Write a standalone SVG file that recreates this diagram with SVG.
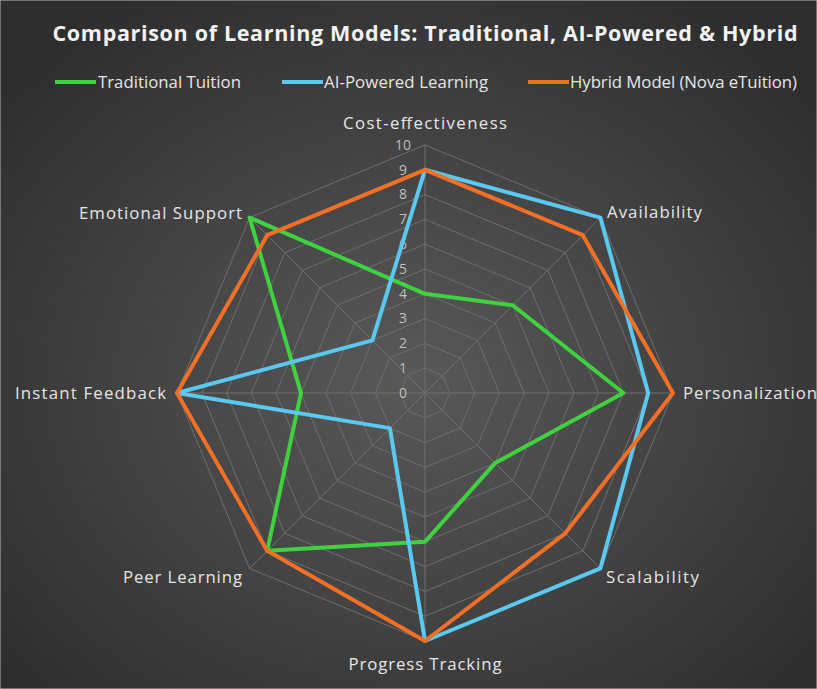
<svg xmlns="http://www.w3.org/2000/svg" width="817" height="689" viewBox="0 0 817 689">
<defs>
<radialGradient id="bg" cx="50%" cy="55%" r="65%"><stop offset="0" stop-color="#595959"/><stop offset="1" stop-color="#2e2e2e"/></radialGradient>
<style>
.t{font-family:"Open Sans","Liberation Sans",sans-serif;fill:#e6e6e6;font-size:16.8px}
.n{font-family:"Open Sans","Liberation Sans",sans-serif;fill:#bfbfbf;font-size:14px;text-anchor:middle}
.g{fill:none;stroke:#6e6e6e;stroke-width:1}
.s{fill:none;stroke-width:4;stroke-linejoin:round}
</style>
</defs>
<rect width="817" height="689" fill="url(#bg)" stroke="#bbb"/>
<text x="425" y="41" text-anchor="middle" textLength="745" style="font-family:'Open Sans','Liberation Sans',sans-serif;font-weight:bold;font-size:21.5px;fill:#f2f2f2">Comparison of Learning Models: Traditional,  AI-Powered &amp; Hybrid</text>
<g id="legend">
<line x1="55" y1="82" x2="96" y2="82" stroke="#3fd13f" stroke-width="4"/><text class="t" x="98" y="88" textLength="143">Traditional Tuition</text>
<line x1="282" y1="82" x2="323" y2="82" stroke="#5bc8f0" stroke-width="4"/><text class="t" x="324" y="88" textLength="164">AI-Powered Learning</text>
<line x1="528" y1="82" x2="569" y2="82" stroke="#f07027" stroke-width="4"/><text class="t" x="570" y="88" textLength="227">Hybrid Model (Nova eTuition)</text>
</g>
<g id="grid">
<polygon class="g" points="425,368.2 442.5,375.5 449.8,393 442.5,410.5 425,417.8 407.5,410.5 400.2,393 407.5,375.5"/>
<polygon class="g" points="425,343.4 460.1,357.9 474.6,393 460.1,428.1 425,442.6 389.9,428.1 375.4,393 389.9,357.9"/>
<polygon class="g" points="425,318.6 477.6,340.4 499.4,393 477.6,445.6 425,467.4 372.4,445.6 350.6,393 372.4,340.4"/>
<polygon class="g" points="425,293.8 495.1,322.9 524.2,393 495.1,463.1 425,492.2 354.9,463.1 325.8,393 354.9,322.9"/>
<polygon class="g" points="425,269 512.7,305.3 549,393 512.7,480.7 425,517 337.3,480.7 301,393 337.3,305.3"/>
<polygon class="g" points="425,244.2 530.2,287.8 573.8,393 530.2,498.2 425,541.8 319.8,498.2 276.2,393 319.8,287.8"/>
<polygon class="g" points="425,219.4 547.8,270.2 598.6,393 547.8,515.8 425,566.6 302.2,515.8 251.4,393 302.2,270.2"/>
<polygon class="g" points="425,194.6 565.3,252.7 623.4,393 565.3,533.3 425,591.4 284.7,533.3 226.6,393 284.7,252.7"/>
<polygon class="g" points="425,169.8 582.8,235.2 648.2,393 582.8,550.8 425,616.2 267.2,550.8 201.8,393 267.2,235.2"/>
<polygon class="g" points="425,145 600.4,217.6 673,393 600.4,568.4 425,641 249.6,568.4 177,393 249.6,217.6"/>
<path class="g" d="M425,393V145M425,393L600.4,217.6M425,393H673M425,393L600.4,568.4M425,393V641M425,393L249.6,568.4M425,393H177M425,393L249.6,217.6"/>
</g>
<g id="scale">
<text class="n" x="403" y="398">0</text><text class="n" x="403" y="373">1</text><text class="n" x="403" y="348">2</text><text class="n" x="403" y="323">3</text><text class="n" x="403" y="299">4</text><text class="n" x="403" y="274">5</text><text class="n" x="403" y="249">6</text><text class="n" x="403" y="224">7</text><text class="n" x="403" y="199">8</text><text class="n" x="403" y="175">9</text><text class="n" x="403" y="150">10</text>
</g>
<g id="labels">
<text class="t" x="425" y="129" text-anchor="middle" textLength="164">Cost-effectiveness</text>
<text class="t" x="607" y="218" textLength="95">Availability</text>
<text class="t" x="683" y="399" textLength="134">Personalization</text>
<text class="t" x="606" y="583" textLength="93">Scalability</text>
<text class="t" x="425" y="670" text-anchor="middle" textLength="153">Progress Tracking</text>
<text class="t" x="242" y="583" text-anchor="end" textLength="119">Peer Learning</text>
<text class="t" x="166" y="399" text-anchor="end" textLength="151">Instant Feedback</text>
<text class="t" x="242" y="219" text-anchor="end" textLength="163">Emotional Support</text>
</g>
<g id="series">
<polygon class="s" stroke="#3fd13f" points="425,293.8 512.7,305.3 623.4,393 495.1,463.1 425,541.8 267.2,550.8 301,393 249.6,217.6"/>
<polygon class="s" stroke="#5bc8f0" points="425,169.8 600.4,217.6 648.2,393 600.4,568.4 425,641 389.9,428.1 177,393 372.4,340.4"/>
<polygon class="s" stroke="#f07027" points="425,169.8 582.8,235.2 673,393 565.3,533.3 425,641 267.2,550.8 177,393 267.2,235.2"/>
</g>
</svg>
